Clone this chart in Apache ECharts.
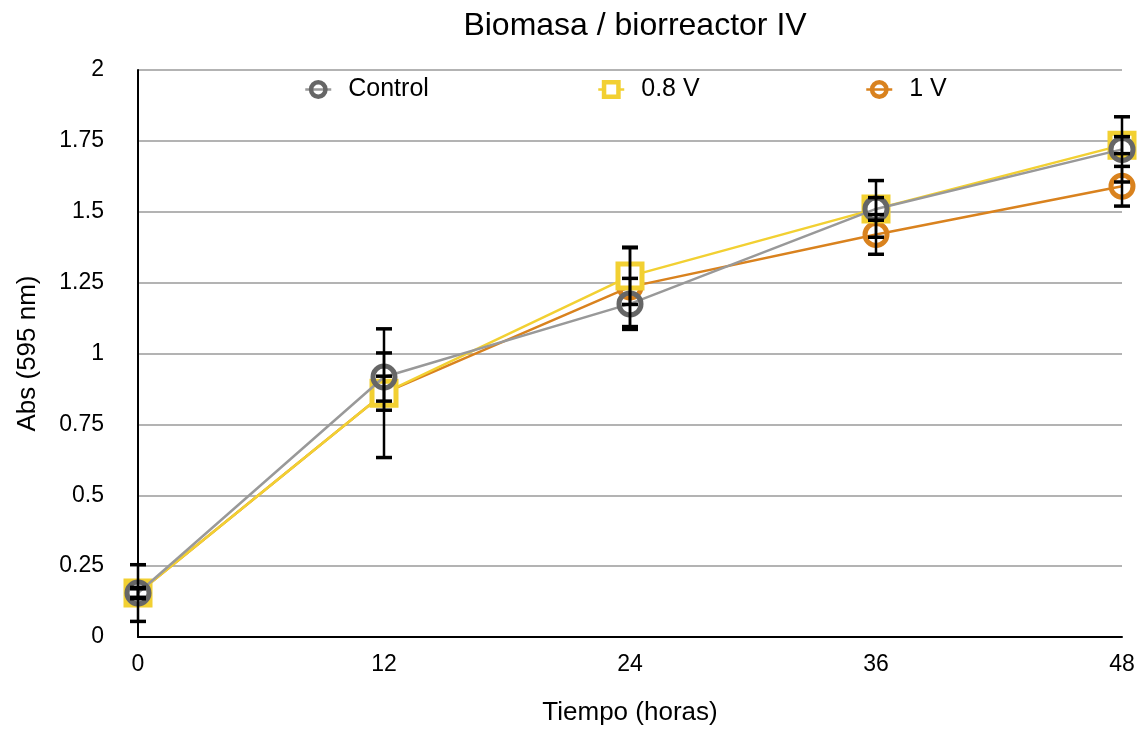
<!DOCTYPE html>
<html>
<head>
<meta charset="utf-8">
<script src="https://cdn.jsdelivr.net/npm/echarts@6/dist/echarts.min.js"></script>
<style>
html,body{margin:0;padding:0;background:#fff;}
#chart{width:1142px;height:731px;}
</style>
</head>
<body>
<div id="chart"></div>
<script>
// Sampling times (hours)
const hours = [0, 12, 24, 36, 48];
// Absorbance means at 595 nm
const controlAbs = [0.155, 0.917, 1.175, 1.51, 1.72];
const v08Abs     = [0.155, 0.86, 1.273, 1.51, 1.735];
const v1Abs      = [0.155, 0.86, 1.235, 1.42, 1.59];
// Standard deviations
const controlErr = [0.10, 0.085, 0.09, 0.10, 0.115];
const v08Err     = [0.02, 0.227, 0.10, 0.04, 0.03];
const v1Err      = [0.015, 0.06, 0.14, 0.07, 0.07];
const yTicks = [0, 0.25, 0.5, 0.75, 1, 1.25, 1.5, 1.75, 2];

const FONT = '"Liberation Sans", Arial, sans-serif';

function pairs(xs, ys) { return xs.map((x, i) => [x, ys[i]]); }
function errRows(xs, ys, es) { return xs.map((x, i) => [x, ys[i] - es[i], ys[i] + es[i]]); }

function errorSeries(xs, ys, es) {
  return {
    type: 'custom',
    silent: true,
    z: 10,
    data: errRows(xs, ys, es),
    renderItem: function (params, api) {
      const x = api.value(0);
      const lo = api.coord([x, api.value(1)]);
      const hi = api.coord([x, api.value(2)]);
      const cap = 8;
      return {
        type: 'group',
        children: [
          { type: 'line', shape: { x1: lo[0], y1: lo[1], x2: hi[0], y2: hi[1] }, style: { stroke: '#000', lineWidth: 2.5 } },
          { type: 'line', shape: { x1: hi[0] - cap, y1: hi[1], x2: hi[0] + cap, y2: hi[1] }, style: { stroke: '#000', lineWidth: 3.5 } },
          { type: 'line', shape: { x1: lo[0] - cap, y1: lo[1], x2: lo[0] + cap, y2: lo[1] }, style: { stroke: '#000', lineWidth: 3.5 } }
        ]
      };
    }
  };
}

const chart = echarts.init(document.getElementById('chart'), null, { renderer: 'canvas' });

const legendBase = {
  top: 77, padding: 0, itemWidth: 26, itemHeight: 18, itemGap: 0, selectedMode: false,
  itemStyle: { borderWidth: 4.5 },
  lineStyle: { width: 2.5 },
  textStyle: { fontFamily: FONT, fontSize: 25, color: '#000', padding: [0, 0, 0, 12] }
};

chart.setOption({
  animation: false,
  backgroundColor: '#fff',
  title: {
    text: 'Biomasa / biorreactor IV',
    left: 630, textAlign: 'center', top: 5,
    textStyle: { fontFamily: FONT, fontSize: 32, fontWeight: 'normal', color: '#000' }
  },
  legend: [
    Object.assign({ data: ['Control'], left: 304 }, legendBase),
    Object.assign({ data: ['0.8 V'], left: 597 }, legendBase),
    Object.assign({ data: ['1 V'], left: 865 }, legendBase)
  ],
  grid: { left: 138, right: 20, top: 70, bottom: 94, containLabel: false, outerBoundsMode: 'none' },
  xAxis: {
    type: 'value', min: 0, max: 48, interval: 12,
    name: 'Tiempo (horas)', nameLocation: 'middle', nameGap: 63,
    nameTextStyle: { fontFamily: FONT, fontSize: 26, color: '#000' },
    axisLine: { lineStyle: { color: '#000', width: 2 } },
    axisTick: { show: false },
    axisLabel: { fontFamily: FONT, fontSize: 23, color: '#000', margin: 16 },
    splitLine: { show: false }
  },
  yAxis: {
    type: 'value', min: 0, max: 2, interval: 0.25,
    name: 'Abs (595 nm)', nameLocation: 'middle', nameGap: 97, nameRotate: 90,
    nameTextStyle: { fontFamily: FONT, fontSize: 26, color: '#000' },
    axisLine: { show: true, lineStyle: { color: '#000', width: 2 } },
    axisTick: { show: false },
    axisLabel: {
      fontFamily: FONT, fontSize: 23, color: '#000', margin: 34,
      formatter: v => { const t = yTicks.find(k => Math.abs(k - v) < 1e-9); return t === undefined ? '' : String(t); }
    },
    splitLine: { show: true, lineStyle: { color: '#b3b3b3', width: 2 } }
  },
  series: [
    {
      name: '1 V', type: 'line', z: 3,
      data: pairs(hours, v1Abs),
      symbol: 'circle', symbolSize: 22,
      lineStyle: { color: '#d9821e', width: 2.5 },
      itemStyle: { color: 'rgba(255,255,255,0)', borderColor: '#d9821e', borderWidth: 5 }
    },
    {
      name: '0.8 V', type: 'line', z: 4,
      data: pairs(hours, v08Abs),
      symbol: 'rect', symbolSize: 24,
      lineStyle: { color: '#f2d032', width: 2.5 },
      itemStyle: { color: '#fff', borderColor: '#f2d032', borderWidth: 5 }
    },
    {
      name: 'Control', type: 'line', z: 5,
      data: pairs(hours, controlAbs),
      symbol: 'circle', symbolSize: 22,
      lineStyle: { color: '#999999', width: 2.5 },
      itemStyle: { color: 'rgba(255,255,255,0)', borderColor: '#666666', borderWidth: 5 }
    },
    errorSeries(hours, v08Abs, v08Err),
    errorSeries(hours, v1Abs, v1Err),
    errorSeries(hours, controlAbs, controlErr)
  ]
});
</script>
</body>
</html>
